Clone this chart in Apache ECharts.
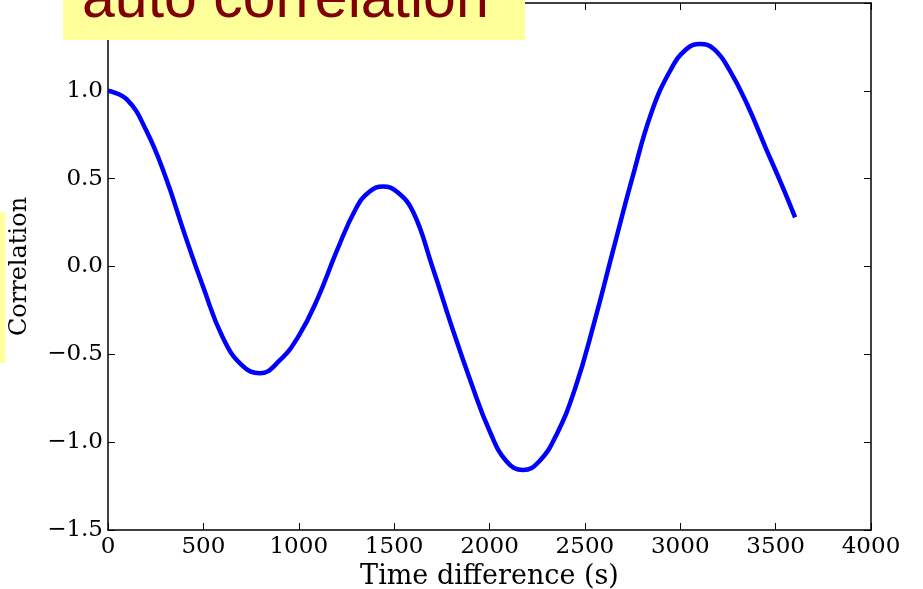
<!DOCTYPE html>
<html>
<head>
<meta charset="utf-8">
<script src="https://cdn.jsdelivr.net/npm/echarts@6/dist/echarts.min.js"></script>
<style>html,body{margin:0;padding:0;background:#fff}#c{width:923px;height:589px}</style>
</head>
<body>
<div id="c"></div>
<script>
const timeDiff = [0, 100, 200, 300, 400, 500, 600, 700, 797, 900, 1000, 1100, 1200, 1300, 1370, 1442, 1515, 1600, 1700, 1800, 1900, 2000, 2090, 2176, 2260, 2350, 2450, 2550, 2650, 2750, 2850, 2950, 3030, 3104, 3180, 3260, 3350, 3450, 3530, 3602];
const correlation = [1.0, 0.95, 0.775, 0.515, 0.19, -0.12, -0.40, -0.56, -0.608, -0.535, -0.395, -0.18, 0.09, 0.33, 0.425, 0.455, 0.425, 0.31, 0.0, -0.335, -0.65, -0.935, -1.11, -1.159, -1.11, -0.96, -0.69, -0.315, 0.10, 0.51, 0.88, 1.12, 1.235, 1.267, 1.235, 1.115, 0.925, 0.67, 0.47, 0.28];
const xTicks = {min: 0, max: 4000, interval: 500};
const yTicks = {min: -1.5, max: 1.5, interval: 0.5};
const titleText = 'auto correlation';
const xName = 'Time difference (s)';
const yName = 'Correlation';

const serif = 'DejaVu Serif';
const fmtY = v => v.toFixed(1).replace('-', '\u2212');
const fmtX = v => String(v);
const chart = echarts.init(document.getElementById('c'));
const tickStyle = {show: true, inside: true, length: 7, lineStyle: {color: '#000', width: 1}};
const lineStyle = {show: true, onZero: false, lineStyle: {color: '#000', width: 1.5}};
chart.setOption({
  animation: false,
  grid: {left: 108, right: 52, top: 3, bottom: 59, containLabel: false, outerBoundsMode: 'none'},
  xAxis: [
    {type: 'value', position: 'bottom', min: xTicks.min, max: xTicks.max, interval: xTicks.interval,
     axisLine: lineStyle, axisTick: tickStyle, splitLine: {show: false},
     axisLabel: {color: '#000', fontFamily: serif, fontSize: 23, margin: 6, formatter: fmtX},
     name: xName, nameLocation: 'middle', nameGap: 30,
     nameTextStyle: {color: '#000', fontFamily: serif, fontSize: 27}},
    {type: 'value', position: 'top', min: xTicks.min, max: xTicks.max, interval: xTicks.interval,
     axisLine: lineStyle, axisTick: tickStyle, splitLine: {show: false}, axisLabel: {show: false}}
  ],
  yAxis: [
    {type: 'value', position: 'left', min: yTicks.min, max: yTicks.max, interval: yTicks.interval,
     axisLine: lineStyle, axisTick: tickStyle, splitLine: {show: false},
     axisLabel: {color: '#000', fontFamily: serif, fontSize: 23, margin: 5, formatter: fmtY, showMaxLabel: false},
     name: yName, nameLocation: 'middle', nameGap: 76, nameRotate: 90,
     nameTextStyle: {color: '#000', fontFamily: serif, fontSize: 24}},
    {type: 'value', position: 'right', min: yTicks.min, max: yTicks.max, interval: yTicks.interval,
     axisLine: lineStyle, axisTick: tickStyle, splitLine: {show: false}, axisLabel: {show: false}}
  ],
  series: [{
    type: 'line', xAxisIndex: 0, yAxisIndex: 0, smooth: 0.45, showSymbol: false, symbol: 'none',
    lineStyle: {color: '#0000ff', width: 4.5}, clip: true,
    data: timeDiff.map((t, i) => [t, correlation[i]])
  }],
  graphic: [
    {type: 'rect', z: 100, shape: {x: 63, y: 0, width: 462, height: 40}, style: {fill: '#ffff99'}},
    {type: 'text', z: 101, x: 82, y: 1, style: {text: titleText, fill: '#800000', fontFamily: '"Liberation Sans", Arial, sans-serif', fontSize: 59, verticalAlign: 'middle'}},
    {type: 'rect', z: 100, shape: {x: 0, y: 212, width: 5.5, height: 151}, style: {fill: '#ffffa0'}}
  ]
});
</script>
</body>
</html>
